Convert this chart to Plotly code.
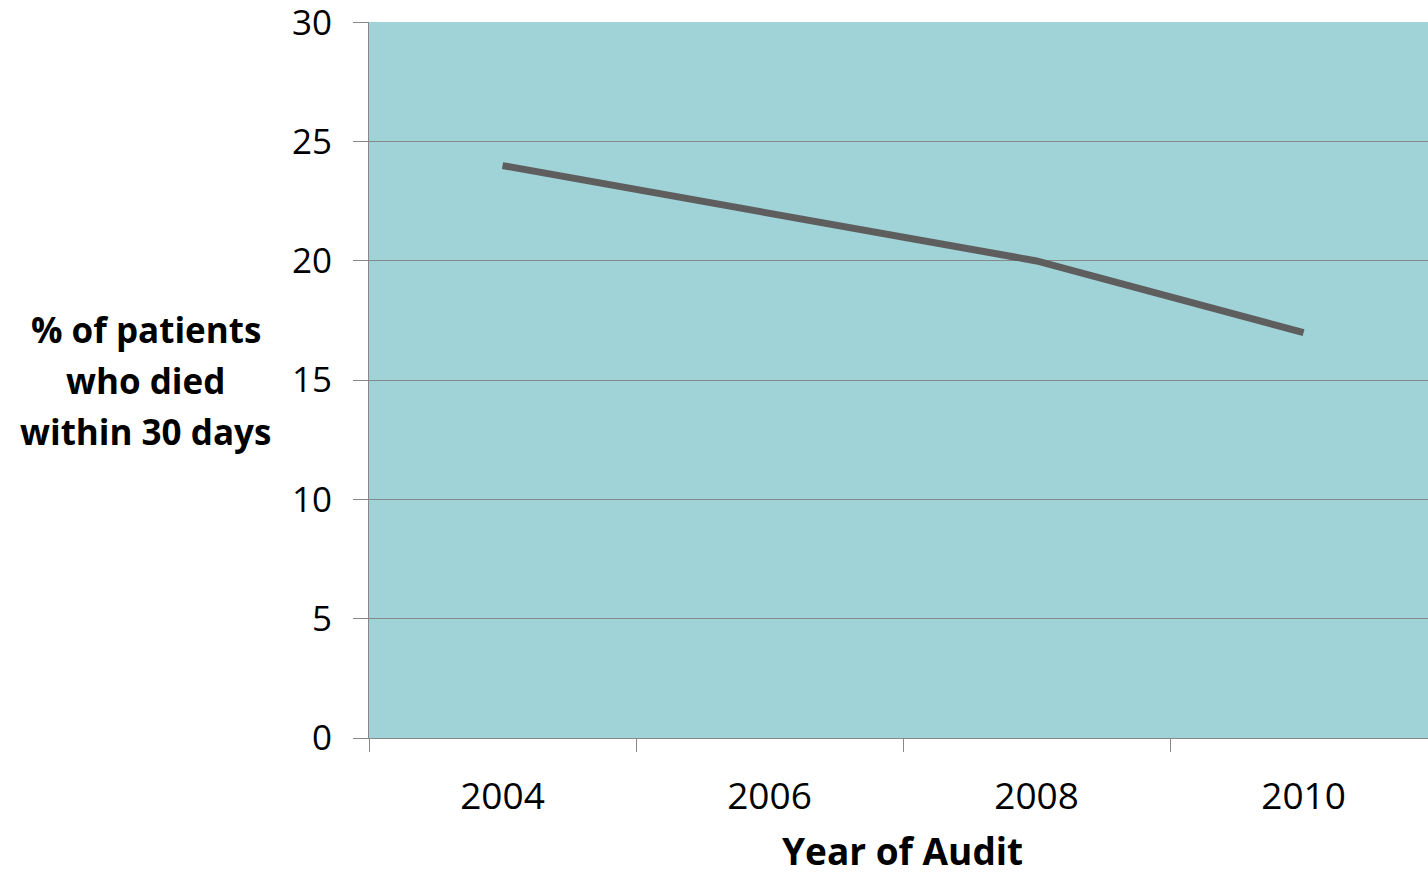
import plotly.graph_objects as go

years = ["2004", "2006", "2008", "2010"]
pct_died = [24, 22, 20, 17]
y_ticks = [0, 5, 10, 15, 20, 25, 30]
y_title_lines = ["% of patients", "who died", "within 30 days"]
x_title = "Year of Audit"

fig = go.Figure()
fig.add_trace(go.Scatter(
    x=years, y=pct_died, mode="lines",
    line=dict(color="#5E5E5E", width=7),
    showlegend=False,
))

fig.update_layout(
    width=1428, height=878,
    margin=dict(l=369, r=0, t=22, b=140, autoexpand=False),
    paper_bgcolor="white",
    plot_bgcolor="#A0D3D7",
    font=dict(family="Open Sans", color="black"),
)
fig.update_xaxes(
    type="category",
    range=[-0.5, 3.466],
    tickson="boundaries",
    ticks="outside", ticklen=13, tickcolor="#888888", tickwidth=1,
    showgrid=False,
    showline=True, linecolor="#888888", linewidth=1,
    tickfont=dict(size=37),
    ticklabelstandoff=26,
    ticklabeloverflow="allow",
    automargin=False,
)
fig.update_yaxes(
    range=[0, 30.02],
    tickvals=y_ticks,
    ticks="outside", ticklen=15, tickcolor="#888888", tickwidth=1,
    showgrid=True, gridcolor="#888888", gridwidth=1,
    showline=True, linecolor="#888888", linewidth=1,
    zeroline=False,
    tickfont=dict(size=35),
    ticklabelstandoff=14,
    ticklabeloverflow="allow",
    automargin=False,
)

for i, line in enumerate(y_title_lines):
    fig.add_annotation(
        text="<b>" + line + "</b>",
        xref="paper", yref="paper",
        x=-0.211, y=0.57 - i * 0.0712,
        xanchor="center", yanchor="middle",
        showarrow=False,
        font=dict(size=35, family="Open Sans", color="black"),
    )

fig.add_annotation(
    text="<b>" + x_title + "</b>",
    xref="paper", yref="paper",
    x=0.504, y=-140 / 716,
    xanchor="center", yanchor="bottom",
    showarrow=False,
    font=dict(size=37, family="Open Sans", color="black"),
)

fig.write_html("out.html", config={"displayModeBar": False},
               post_script="document.body.style.margin='0';")
